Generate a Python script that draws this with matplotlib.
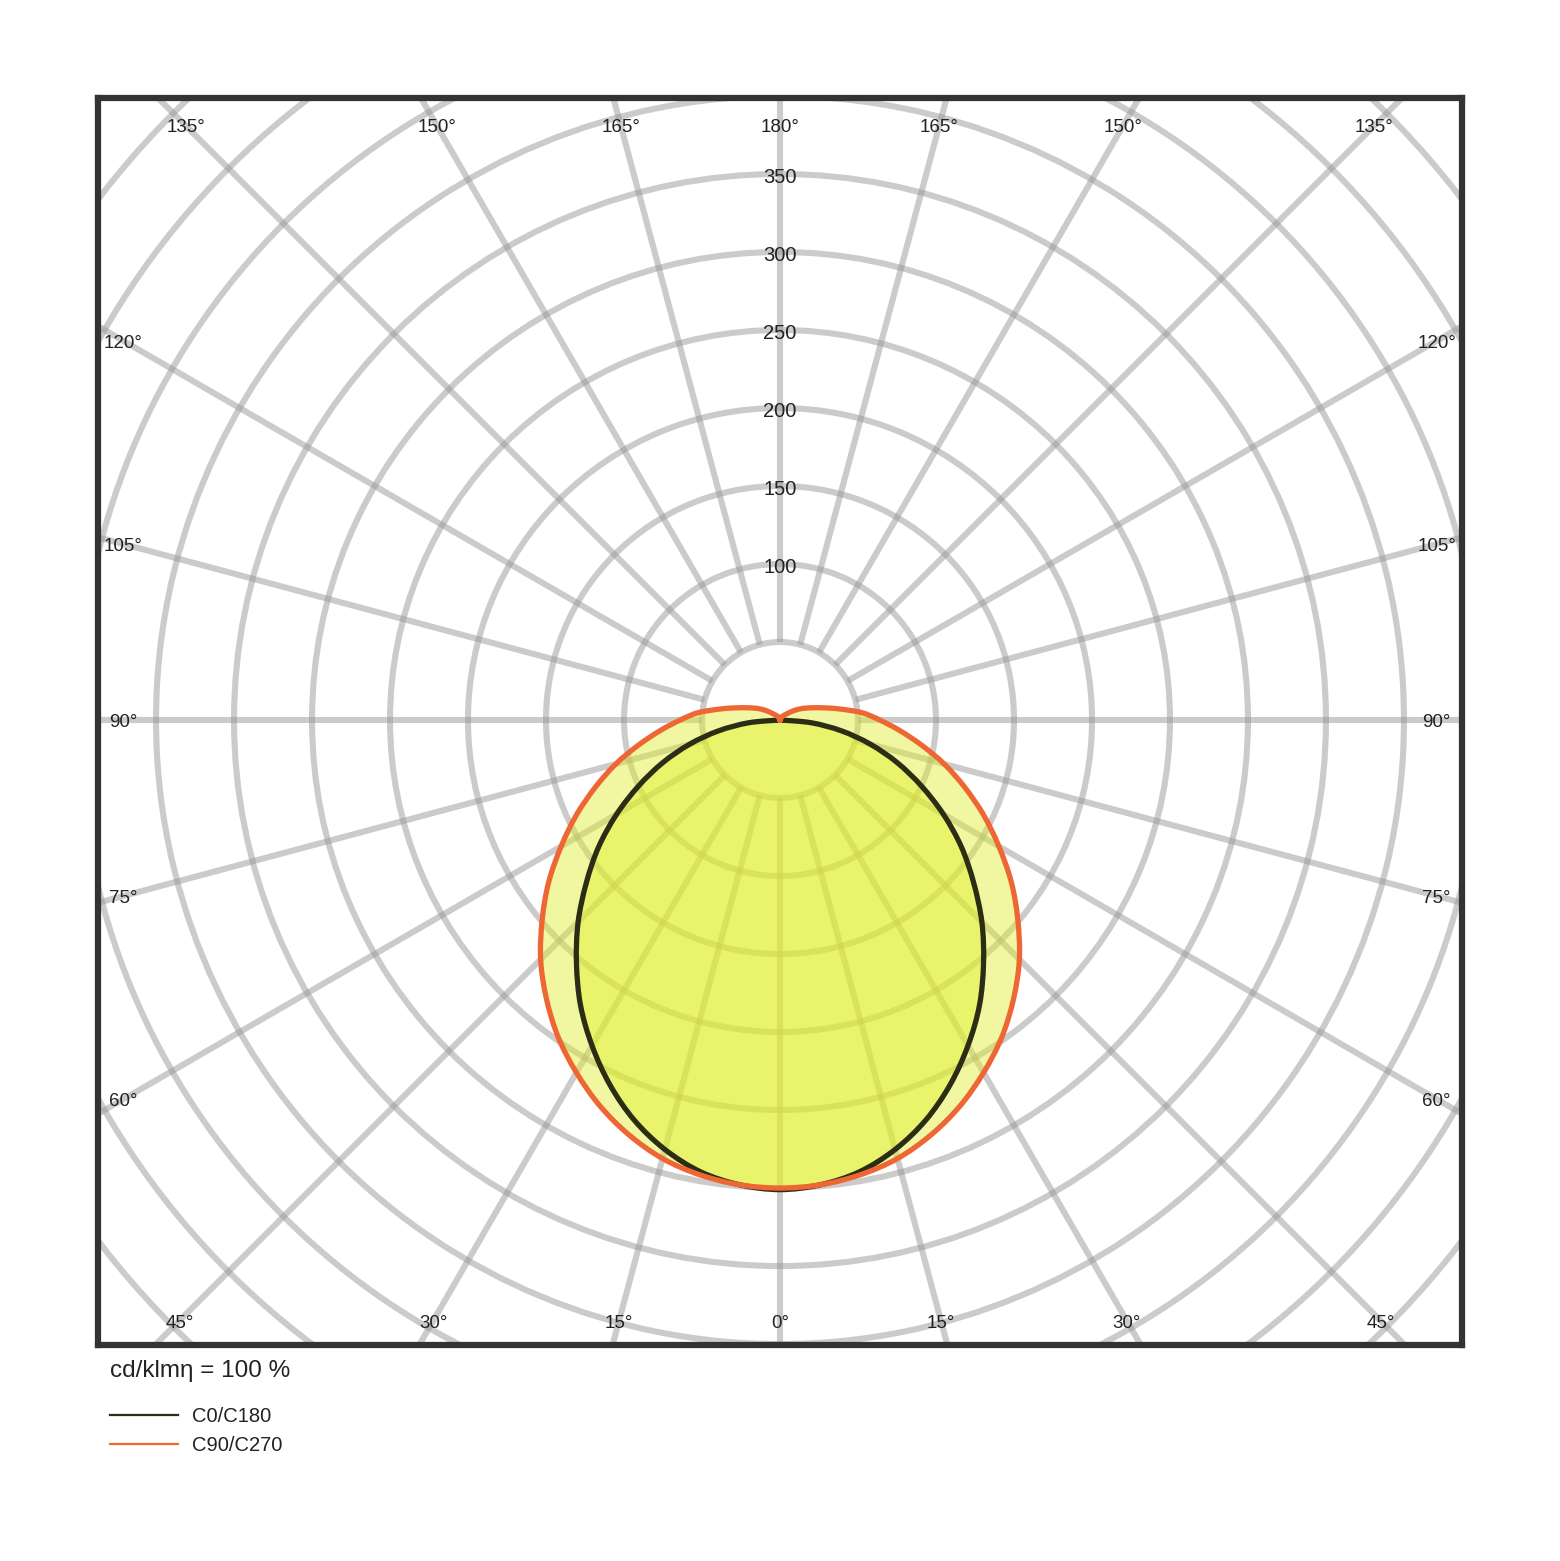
import numpy as np
import matplotlib
matplotlib.use('Agg')
import matplotlib.pyplot as plt
from matplotlib.patches import Circle, PathPatch
from matplotlib.path import Path
from matplotlib.lines import Line2D

plt.rcParams['font.family'] = ['Liberation Sans', 'DejaVu Sans']

# gamma angle from nadir (deg) and luminous intensity (cd/klm)
gamma = list(range(0, 185, 5))
c0_c180 = [301, 299, 294, 285, 273, 258, 241, 223, 203, 183, 162, 142, 121, 100,
           80, 60, 40, 20, 0, 0, 0, 0, 0, 0, 0, 0, 0, 0, 0, 0, 0, 0, 0, 0, 0, 0, 0]
c90_c270 = [300, 299, 296, 291, 283, 273, 261, 248, 233, 217, 199, 181, 162, 144,
            126, 109, 92, 77, 64, 53, 40, 30, 23, 18, 14, 10, 7, 5, 4, 3, 2, 2,
            1, 1, 1, 0, 0]

rings = list(range(50, 650, 50))
ring_labels = [100, 150, 200, 250, 300, 350]
spokes = list(range(0, 360, 15))
angle_ticks = list(range(0, 195, 15))

series = [('C0/C180', c0_c180, '#2b2e14'), ('C90/C270', c90_c270, '#ee6634')]
fill_color = (225 / 255, 238 / 255, 40 / 255)


def outline(vals):
    # closed smooth path: left half is the first plane, right half mirrored
    th = np.deg2rad(gamma)
    r = np.array(vals, dtype=float)
    xl, yl = -r * np.sin(th), -r * np.cos(th)
    x = np.concatenate([xl, -xl[-2:0:-1]])
    y = np.concatenate([yl, yl[-2:0:-1]])
    P = np.column_stack([x, y])
    n = len(P)
    verts = [P[0]]
    codes = [Path.MOVETO]
    for i in range(n):
        p0, p1, p2, p3 = P[i - 1], P[i], P[(i + 1) % n], P[(i + 2) % n]
        verts += [p1 + (p2 - p0) / 6, p2 - (p3 - p1) / 6, p2]
        codes += [Path.CURVE4] * 3
    return Path(verts, codes)


fig = plt.figure(figsize=(15.6, 15.61), dpi=100)
ax = fig.add_axes([98 / 1560, (1561 - 1345) / 1561, 1364 / 1560, 1247 / 1561])
ax.set_xlim(-437.2, 437.2)
ax.set_ylim(-400.6, 398.7)
ax.set_xticks([])
ax.set_yticks([])
for sp in ax.spines.values():
    sp.set_linewidth(4.5)
    sp.set_color('#333333')

# grid: rings and spokes
for r in rings:
    ax.add_patch(Circle((0, 0), r, fill=False, ec='#999999', alpha=0.5, lw=4.4, zorder=1))
for a in spokes:
    t = np.deg2rad(a)
    ax.plot([50 * np.sin(t), 700 * np.sin(t)], [-50 * np.cos(t), -700 * np.cos(t)],
            color='#999999', alpha=0.5, lw=4.4, zorder=1, solid_capstyle='butt')

# curves
for name, vals, col in series:
    ax.add_patch(PathPatch(outline(vals), fc=fill_color, alpha=0.44, lw=0, zorder=2))
for name, vals, col in series:
    ax.add_patch(PathPatch(outline(vals), fill=False, ec=col, lw=3.8, zorder=3,
                           joinstyle='round'))

# radial value labels
for v in ring_labels:
    ax.text(0, v - 2, str(v), ha='center', va='center', fontsize=14.5, color='#222222', zorder=5)

# angle labels where the spokes meet the label box
W, H_top, H_bot = 421, 381, 385
for g in angle_ticks:
    t = np.deg2rad(g)
    for side in ([-1, 1] if 0 < g < 180 else [1]):
        dx, dy = side * np.sin(t), -np.cos(t)
        hh = H_top if dy > 0 else H_bot
        s = min(W / abs(dx) if abs(dx) > 1e-9 else 1e9,
                hh / abs(dy) if abs(dy) > 1e-9 else 1e9)
        ax.text(s * dx, s * dy - 1.5, f'{g}°', ha='center', va='center',
                fontsize=13.5, color='#222222', zorder=5)

fig.text(110 / 1560, 1 - 1371 / 1561, 'cd/klmη = 100 %', ha='left', va='center',
         fontsize=17.5, color='#222222')

handles = [Line2D([], [], color=c, lw=1.6) for _, _, c in series]
fig.legend(handles, [n for n, _, _ in series], loc='upper left',
           bbox_to_anchor=(110 / 1560, 1 - 1407 / 1561), frameon=False,
           borderaxespad=0, borderpad=0, fontsize=14.5, handlelength=3.4,
           handletextpad=0.65, labelspacing=0.5, labelcolor='#222222')

fig.savefig('out.png', dpi=100)
